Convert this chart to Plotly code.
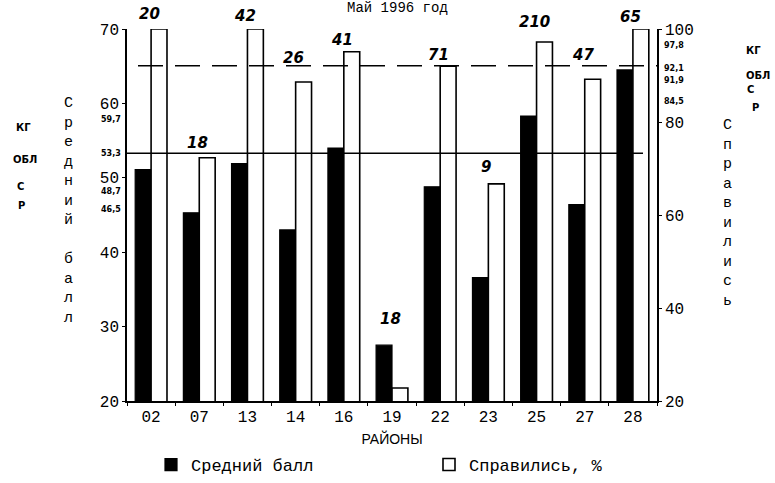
import plotly.graph_objects as go

# районы и значения
districts = ["02", "07", "13", "14", "16", "19", "22", "23", "25", "27", "28"]
avg_score = [51.1, 45.3, 51.9, 43.0, 54.0, 27.5, 48.8, 36.6, 58.3, 46.4, 64.5]
passed_pct = [100, 72.3, 100, 88.6, 95.1, 22.8, 92.0, 66.7, 97.2, 89.2, 100]
participants = ["20", "18", "42", "26", "41", "18", "71", "9", "210", "47", "65"]

# сравнительные значения (КГ, ОБЛ, С, Р)
ref_names = ["КГ", "ОБЛ", "С", "Р"]
ref_score = [59.7, 53.3, 48.7, 46.5]
ref_pct = [97.8, 92.1, 91.9, 84.5]
obl_score = 53.3
obl_pct = 92.1

W, H = 775, 483
L, R, T, B = 127, 118, 29, 82
PW, PH = W - L - R, H - T - B


def px_x(px):
    return (px - L) / PW


def px_y(py):
    return (H - B - py) / PH


MONO = "Liberation Mono"

fig = go.Figure()

fig.add_trace(go.Bar(
    x=districts, y=avg_score, name="Средний балл",
    marker=dict(color="black", line=dict(color="black", width=1.2)),
    offsetgroup="1", yaxis="y", legend="legend", showlegend=True,
))
fig.add_trace(go.Bar(
    x=districts, y=passed_pct, name="Справились, %",
    marker=dict(color="white", line=dict(color="black", width=1.6)),
    offsetgroup="2", yaxis="y2", legend="legend2", showlegend=True,
))

# линии уровня области
fig.add_shape(type="line", xref="paper", yref="y", x0=0, x1=px_x(643),
              y0=obl_score, y1=obl_score, line=dict(color="black", width=1.6))
fig.add_shape(type="line", xref="paper", yref="y2", x0=px_x(138), x1=1,
              y0=obl_pct, y1=obl_pct,
              line=dict(color="black", width=1.6, dash="25px,12px"))

annotations = []

# число участников над столбиками
shifts = [15, 15, 13, 24, 12, 26, 11, 17, 20, 24, 12]
for i in range(len(districts)):
    top = max(passed_pct[i], 20 + (avg_score[i] - 20) * 80 / 50)
    annotations.append(dict(
        x=i, y=top, xref="x", yref="y2", text="<b><i>%s</i></b>" % participants[i],
        showarrow=False, yshift=shifts[i], xshift=-2, xanchor="center",
        font=dict(family="DejaVu Sans", size=15, color="black"),
    ))

# подписи сравнительных значений
left_shift = [-14, 0, -4, -6]
left_name_x = [23, 25, 20, 21]
left_name_y = [120, 159, 187, 205]
for v, s, n, nx, ny in zip(ref_score, left_shift, ref_names, left_name_x, left_name_y):
    annotations.append(dict(
        x=px_x(123), y=v, xref="paper", yref="y", text="<b>%s</b>" % str(v).replace(".", ","),
        showarrow=False, xanchor="right", yshift=s,
        font=dict(family="DejaVu Sans", size=8, color="black"),
    ))
    annotations.append(dict(
        x=px_x(nx), y=px_y(ny), xref="paper", yref="paper", text="<b>%s</b>" % n,
        showarrow=False, xanchor="center",
        font=dict(family="DejaVu Sans", size=10, color="black"),
    ))

right_shift = [-6, -3, -14, 0]
right_name_x = [753, 758, 750, 755]
right_name_y = [43, 68, 82, 100]
for v, s, n, nx, ny in zip(ref_pct, right_shift, ref_names, right_name_x, right_name_y):
    annotations.append(dict(
        x=px_x(662), y=v, xref="paper", yref="y2", text="<b>%s</b>" % str(v).replace(".", ","),
        showarrow=False, xanchor="left", yshift=s,
        font=dict(family="DejaVu Sans", size=8, color="black"),
    ))
    annotations.append(dict(
        x=px_x(nx), y=px_y(ny), xref="paper", yref="paper", text="<b>%s</b>" % n,
        showarrow=False, xanchor="center",
        font=dict(family="DejaVu Sans", size=10, color="black"),
    ))

# вертикальные подписи осей
annotations.append(dict(
    x=px_x(68), y=px_y(93), xref="paper", yref="paper",
    text="<br>".join(list("Средний") + [""] + list("балл")),
    showarrow=False, xanchor="center", yanchor="top", align="center",
    font=dict(family=MONO, size=15, color="black"),
))
annotations.append(dict(
    x=px_x(727), y=px_y(115), xref="paper", yref="paper",
    text="<br>".join(list("Справились")),
    showarrow=False, xanchor="center", yanchor="top", align="center",
    font=dict(family=MONO, size=15, color="black"),
))

# заголовок
annotations.append(dict(
    x=px_x(397), y=px_y(8), xref="paper", yref="paper", text="Май 1996 год",
    showarrow=False, xanchor="center", yanchor="middle",
    font=dict(family=MONO, size=14, color="black"),
))

legend_font = dict(family=MONO, size=17, color="black")

fig.update_layout(
    width=W, height=H,
    margin=dict(l=L, r=R, t=T, b=B, autoexpand=False),
    paper_bgcolor="white", plot_bgcolor="white",
    showlegend=True,
    barmode="group", bargap=0.34, bargroupgap=0,
    font=dict(family=MONO, size=16, color="black"),
    xaxis=dict(
        type="category", range=[-0.5, len(districts) - 0.5],
        showline=True, linecolor="black", linewidth=1.5,
        ticks="outside", ticklen=3, tickson="boundaries", tickcolor="black",
        showgrid=False, tickangle=0,
        title=dict(text="РАЙОНЫ", font=dict(family="Liberation Sans", size=14), standoff=8),
    ),
    yaxis=dict(
        range=[20, 70], tickvals=[20, 30, 40, 50, 60, 70],
        showline=True, linecolor="black", linewidth=1.5,
        ticks="outside", ticklen=3, tickcolor="black", showgrid=False, zeroline=False,
    ),
    yaxis2=dict(
        range=[20, 100], tickvals=[20, 40, 60, 80, 100], overlaying="y", side="right",
        showline=True, linecolor="black", linewidth=1.5,
        ticks="outside", ticklen=3, tickcolor="black", showgrid=False, zeroline=False,
    ),
    legend=dict(
        orientation="h", x=px_x(151), y=px_y(465), yanchor="middle", xanchor="left",
        font=legend_font, visible=True,
    ),
    legend2=dict(
        orientation="h", x=px_x(429), y=px_y(465), yanchor="middle", xanchor="left",
        font=legend_font, visible=True,
    ),
    annotations=annotations,
)

# убрать стандартный отступ body, чтобы фигура легла ровно в окно
fig.write_html(
    "out.html",
    config={"displayModeBar": False},
    post_script="document.body.style.margin='0px';",
)
